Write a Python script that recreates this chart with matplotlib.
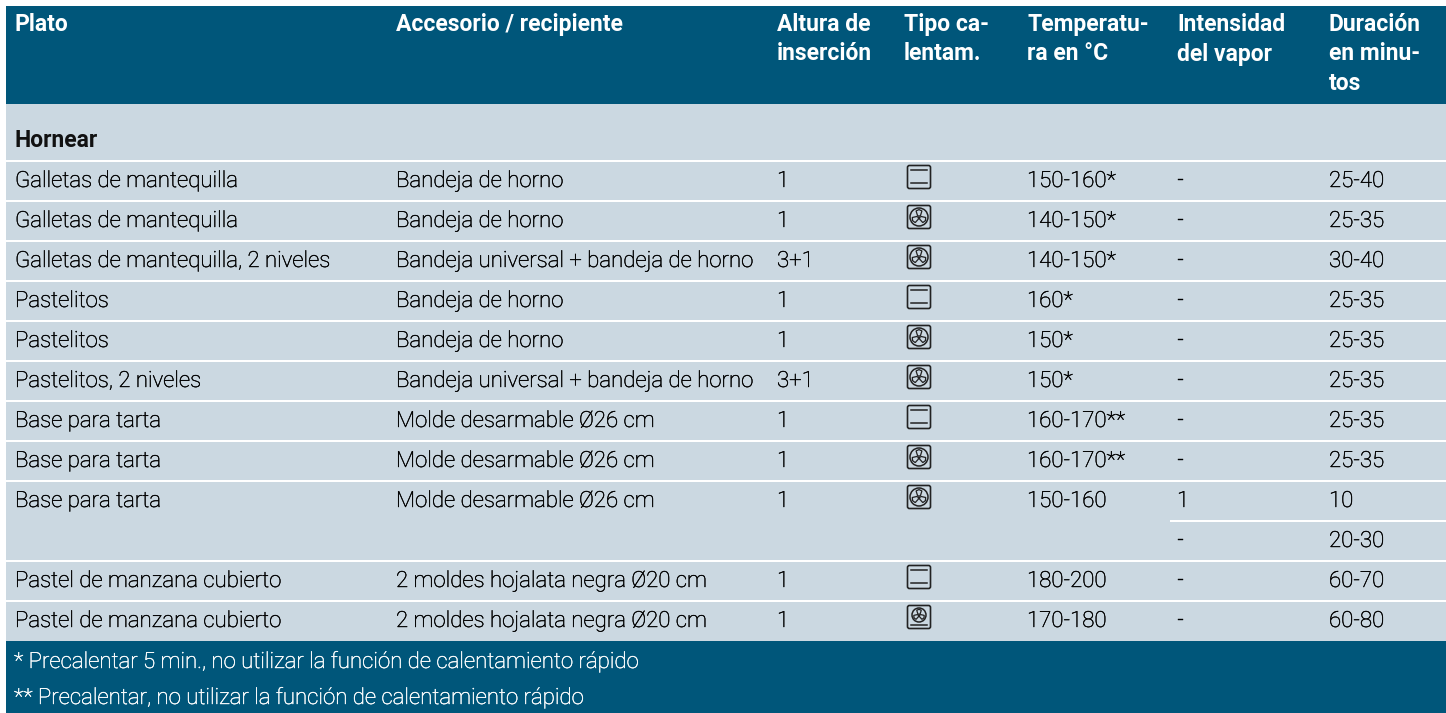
import numpy as np
import matplotlib
matplotlib.use("Agg")
import matplotlib.pyplot as plt
import matplotlib.patheffects as pe
from matplotlib.patches import Rectangle, FancyBboxPatch, Circle, Polygon

# table content
headers = ["Plato", "Accesorio / recipiente", "Altura de\ninserción", "Tipo ca-\nlentam.",
           "Temperatu-\nra en °C", "Intensidad\ndel vapor", "Duración\nen minu-\ntos"]
section = "Hornear"
dishes = ["Galletas de mantequilla", "Galletas de mantequilla", "Galletas de mantequilla, 2 niveles",
          "Pastelitos", "Pastelitos", "Pastelitos, 2 niveles",
          "Base para tarta", "Base para tarta", "Base para tarta", "",
          "Pastel de manzana cubierto", "Pastel de manzana cubierto"]
accessories = ["Bandeja de horno", "Bandeja de horno", "Bandeja universal + bandeja de horno",
               "Bandeja de horno", "Bandeja de horno", "Bandeja universal + bandeja de horno",
               "Molde desarmable Ø26 cm", "Molde desarmable Ø26 cm", "Molde desarmable Ø26 cm", "",
               "2 moldes hojalata negra Ø20 cm", "2 moldes hojalata negra Ø20 cm"]
levels = ["1", "1", "3+1", "1", "1", "3+1", "1", "1", "1", "", "1", "1"]
heating = ["bars", "fan", "fan", "bars", "fan", "fan", "bars", "fan", "fan", "", "bars", "fan_small"]
temps = ["150-160*", "140-150*", "140-150*", "160*", "150*", "150*",
         "160-170**", "160-170**", "150-160", "", "180-200", "170-180"]
steam = ["-", "-", "-", "-", "-", "-", "-", "-", "1", "-", "-", "-"]
minutes = ["25-40", "25-35", "30-40", "25-35", "25-35", "25-35",
           "25-35", "25-35", "10", "20-30", "60-70", "60-80"]
notes = ["* Precalentar 5 min., no utilizar la función de calentamiento rápido",
         "** Precalentar, no utilizar la función de calentamiento rápido"]

W, H = 1446, 713
col_x = [15, 396, 777, 904, 1027, 1177, 1329]
icon_x = 919
DARK = "#00567a"
LIGHT = "#cbd8e1"
INK = "#000000"
FS = 16
FS_B = 16.5

plt.rcParams['font.family'] = ['Roboto', 'Liberation Sans', 'DejaVu Sans']

fig = plt.figure(figsize=(W / 100, H / 100), dpi=100)
ax = fig.add_axes([0, 0, 1, 1])
ax.set_xlim(0, W)
ax.set_ylim(H, 0)
ax.axis('off')

ax.add_patch(Rectangle((6, 6), W - 6, 98, color=DARK, lw=0))
ax.add_patch(Rectangle((6, 104), W - 6, 537, color=LIGHT, lw=0))
ax.add_patch(Rectangle((6, 641), W - 6, 72, color=DARK, lw=0))

# header lines go one by one so the baselines stay put
for x, h in zip(col_x, headers):
    for k, line in enumerate(h.split("\n")):
        ax.text(x, 31 + k * 29.5, line, color="white", fontsize=FS_B, fontweight='bold', va='baseline')

ax.text(col_x[0], 147, section, color="#111111", fontsize=FS_B, fontweight='bold', va='baseline')


def draw_icon(kind, cx, cy):
    ax.add_patch(FancyBboxPatch((cx - 11.5, cy - 11.5), 23, 23,
                                boxstyle="round,pad=0,rounding_size=2", fc="none", ec="#222222", lw=1.2))
    if kind == "bars":
        ax.plot([cx - 8, cx + 8], [cy - 7, cy - 7], color="#222222", lw=1.1)
        ax.plot([cx - 8, cx + 8], [cy + 6, cy + 6], color="#222222", lw=1.1)
        return
    r = 9
    fy = cy
    if kind == "fan_small":
        r = 7
        fy = cy - 2
        ax.plot([cx - 8, cx + 8], [cy + 8, cy + 8], color="#222222", lw=1.1)
    ax.add_patch(Circle((cx, fy), r, fc="none", ec="#222222", lw=1.1))
    for a in np.radians([90, 210, 330]):
        pts = []
        for da, d in [(-0.75, 0.25), (-0.45, 0.75), (0.0, 0.82), (0.45, 0.75), (0.75, 0.25), (0, 0.08)]:
            pts.append((cx + r * d * np.cos(a + da), fy - r * d * np.sin(a + da)))
        ax.add_patch(Polygon(pts, closed=True, fc="none", ec="#222222", lw=0.9))


# light Roboto comes out too grey, a hair of stroke darkens it
dark_stroke = [pe.withStroke(linewidth=0.3, foreground=INK)]
white_stroke = [pe.withStroke(linewidth=0.3, foreground="white")]

row_top = 161
row_h = 40
for i in range(len(dishes)):
    top = row_top + i * row_h
    # white rule above each row, the split row only has it over the last two columns
    x0 = 1170 if dishes[i] == "" else 6
    ax.plot([x0, W], [top, top], color="white", lw=1.44, solid_capstyle='butt')
    y = top + 26
    for x, val in zip([col_x[0], col_x[1], col_x[2], col_x[4], col_x[5], col_x[6]],
                      [dishes[i], accessories[i], levels[i], temps[i], steam[i], minutes[i]]):
        if val:
            ax.text(x, y, val, color=INK, fontsize=FS, va='baseline', ha='left', fontweight='light',
                    path_effects=dark_stroke)
    if heating[i]:
        draw_icon(heating[i], icon_x, top + 16)

for y, note in zip([668, 704], notes):
    ax.text(col_x[0] - 1, y, note, color="white", fontsize=FS, va='baseline', ha='left', fontweight='light',
            path_effects=white_stroke)

fig.savefig("out.png", dpi=100)
